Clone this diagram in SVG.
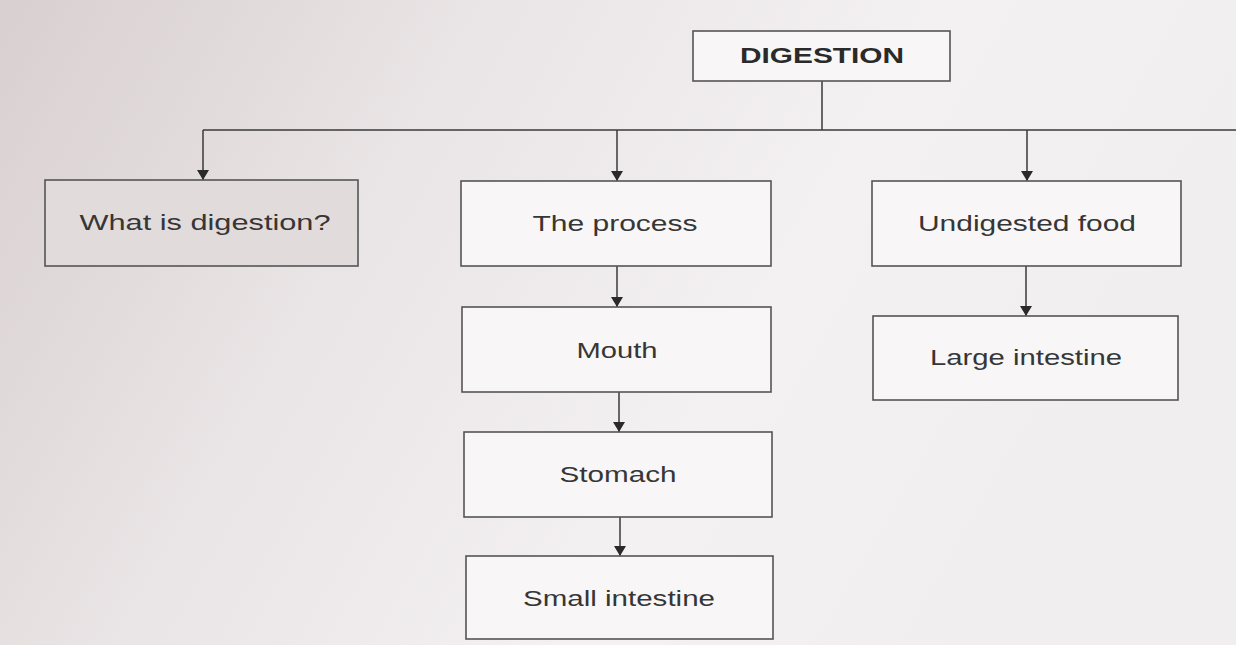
<svg xmlns="http://www.w3.org/2000/svg" width="1236" height="645" viewBox="0 0 1236 645">
<defs>
<linearGradient id="bg" x1="0" y1="0" x2="1" y2="0.3">
<stop offset="0" stop-color="#d8cfd0"/>
<stop offset="0.35" stop-color="#e9e4e5"/>
<stop offset="0.7" stop-color="#f4f1f2"/>
<stop offset="1" stop-color="#f1eeef"/>
</linearGradient>
<marker id="ah" viewBox="0 0 10 12" refX="10" refY="6" markerWidth="10" markerHeight="12" markerUnits="userSpaceOnUse" orient="auto">
<path d="M0,0 L10,6 L0,12 Z" fill="#2a2a2a"/>
</marker>
<style>
.box{fill:#f8f6f7;stroke:#555;stroke-width:1.6}
.shaded{fill:#e2dbdc;stroke:#555;stroke-width:1.6}
.lbl{font-family:"Liberation Sans",Arial,sans-serif;font-size:22px;fill:#363636;text-anchor:middle;dominant-baseline:central}
.title{font-weight:bold;fill:#2a2a2a}
.ln{stroke:#3a3a3a;stroke-width:1.5;fill:none}
</style>
</defs>
<rect width="1236" height="645" fill="url(#bg)"/>
<g id="connectors">
<path class="ln" d="M822,81 V130"/>
<path class="ln" d="M203,130 H1236"/>
<path class="ln" d="M203,130 V180" marker-end="url(#ah)"/>
<path class="ln" d="M617,130 V181" marker-end="url(#ah)"/>
<path class="ln" d="M1027,130 V181" marker-end="url(#ah)"/>
<path class="ln" d="M617,266 V307" marker-end="url(#ah)"/>
<path class="ln" d="M619,392 V432" marker-end="url(#ah)"/>
<path class="ln" d="M620,517 V556" marker-end="url(#ah)"/>
<path class="ln" d="M1026,266 V316" marker-end="url(#ah)"/>
</g>
<g id="digestion"><rect class="box" x="693" y="31" width="257" height="50"/><text class="lbl title" x="822" y="55" textLength="164" lengthAdjust="spacingAndGlyphs">DIGESTION</text></g>
<g id="what"><rect class="shaded" x="45" y="180" width="313" height="86"/><text class="lbl" x="205" y="222" textLength="251" lengthAdjust="spacingAndGlyphs">What is digestion?</text></g>
<g id="process"><rect class="box" x="461" y="181" width="310" height="85"/><text class="lbl" x="615" y="223" textLength="165" lengthAdjust="spacingAndGlyphs">The process</text></g>
<g id="mouth"><rect class="box" x="462" y="307" width="309" height="85"/><text class="lbl" x="617" y="350" textLength="81" lengthAdjust="spacingAndGlyphs">Mouth</text></g>
<g id="stomach"><rect class="box" x="464" y="432" width="308" height="85"/><text class="lbl" x="618" y="474" textLength="117" lengthAdjust="spacingAndGlyphs">Stomach</text></g>
<g id="small"><rect class="box" x="466" y="556" width="307" height="83"/><text class="lbl" x="619" y="598" textLength="192" lengthAdjust="spacingAndGlyphs">Small intestine</text></g>
<g id="undigested"><rect class="box" x="872" y="181" width="309" height="85"/><text class="lbl" x="1027" y="223" textLength="218" lengthAdjust="spacingAndGlyphs">Undigested food</text></g>
<g id="large"><rect class="box" x="873" y="316" width="305" height="84"/><text class="lbl" x="1026" y="357" textLength="192" lengthAdjust="spacingAndGlyphs">Large intestine</text></g>
</svg>
